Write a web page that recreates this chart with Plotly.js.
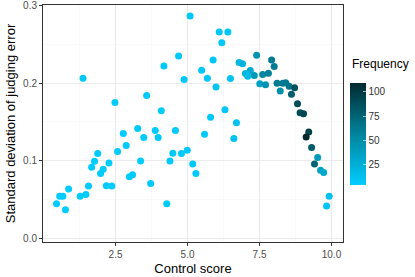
<!DOCTYPE html>
<html>
<head>
<meta charset="utf-8">
<script src="https://cdn.plot.ly/plotly-3.0.1.min.js"></script>
<style>html,body{margin:0;padding:0;background:#fff}#chart{width:415px;height:277px}</style>
</head>
<body>
<div id="chart"></div>
<script>
const controlScore = [1.37,2.48,3.58,2.77,3.27,5.09,6.10,6.40,6.19,4.69,4.18,5.89,5.49,4.88,5.69,6.49,6.79,6.91,7.18,7.01,7.09,5.99,4.09,6.30,5.80,6.70,3.88,4.58,3.48,2.87,2.57,1.88,1.77,2.27,1.67,3.37,2.07,1.98,2.98,3.09,1.56,2.18,2.37,3.72,0.87,0.56,0.67,1.27,1.47,0.45,0.76,3.98,5.59,6.61,4.49,4.79,4.99,4.39,5.18,5.29,4.28,7.40,7.92,8.01,7.32,7.61,7.81,7.51,7.71,8.11,8.31,8.41,8.53,8.72,8.22,8.61,8.82,8.91,9.03,9.21,9.12,9.31,9.52,9.41,9.62,9.73,9.92,9.83];
const sdError = [0.2065,0.175,0.184,0.135,0.1416,0.2866,0.266,0.266,0.252,0.235,0.222,0.230,0.2167,0.2048,0.2065,0.206,0.2265,0.225,0.2163,0.2125,0.209,0.195,0.1645,0.1658,0.156,0.149,0.139,0.139,0.130,0.1196,0.112,0.1094,0.0992,0.097,0.0916,0.0996,0.089,0.0835,0.0793,0.0818,0.0674,0.0678,0.0674,0.0707,0.0636,0.0542,0.0542,0.0542,0.0564,0.0445,0.0369,0.130,0.134,0.1285,0.1098,0.1094,0.1136,0.0996,0.0958,0.0835,0.0445,0.236,0.230,0.2214,0.210,0.2112,0.2128,0.1992,0.198,0.200,0.200,0.2005,0.196,0.194,0.190,0.1857,0.1734,0.162,0.1607,0.1369,0.1305,0.117,0.1043,0.0958,0.0878,0.0847,0.0542,0.0415];
const frequency = [8,6,6,6,6,8,8,8,8,6,6,8,7,7,7,10,18,22,28,20,16,9,5,8,7,12,5,6,5,5,5,5,5,5,5,5,5,5,5,5,5,5,5,5,4,4,4,5,5,4,4,6,6,12,6,6,6,6,6,6,5,45,62,62,42,55,58,35,45,62,62,62,66,85,48,78,88,88,92,95,109,80,40,75,35,30,12,10];
const colorTicks = [25,50,75,100];
const xTicks = [2.5,5.0,7.5,10.0];
const xTickText = ["2.5","5.0","7.5","10.0"];
const yTicks = [0.0,0.1,0.2,0.3];
const yTickText = ["0.0","0.1","0.2","0.3"];

const trace = {
  type: 'scatter', mode: 'markers',
  x: controlScore, y: sdError,
  marker: {
    size: 7,
    color: frequency,
    colorscale: [[0,'#00CCFF'],[0.5,'#00849C'],[1,'#00292E']],
    showscale: true,
    colorbar: {
      x: 1.0233, xanchor: 'left', xpad: 0,
      y: (242 - 134) / 237, yanchor: 'middle', ypad: 0,
      lenmode: 'pixels', len: 102,
      thickness: 16,
      outlinewidth: 0,
      tickvals: colorTicks,
      ticktext: colorTicks.map(String),
      ticks: 'inside', ticklen: 3, tickcolor: 'rgba(255,255,255,0.6)',
      tickfont: {family: 'Liberation Sans, Arial, sans-serif', size: 10, color: '#333'}
    },
    line: {width: 0}
  },
  hoverinfo: 'none'
};

const font = 'Liberation Sans, Arial, sans-serif';
const layout = {
  width: 415, height: 277,
  margin: {l: 43, r: 72, t: 5, b: 35},
  paper_bgcolor: '#fff', plot_bgcolor: '#fff',
  showlegend: false,
  font: {family: font},
  xaxis: {
    range: [-0.02, 10.4],
    tickvals: xTicks, ticktext: xTickText,
    tickfont: {family: font, size: 10, color: '#4d4d4d'},
    ticks: 'outside', ticklen: 3, tickcolor: '#333',
    showline: true, mirror: true, linecolor: '#333', linewidth: 1,
    showgrid: true, gridcolor: '#ebebeb', gridwidth: 1,
    minor: {dtick: 1.25, tick0: 0, showgrid: true, gridcolor: '#f6f6f6', gridwidth: 0.6},
    zeroline: false,
    title: {text: 'Control score', font: {family: font, size: 13, color: '#000'}, standoff: 4}
  },
  yaxis: {
    range: [-0.0048, 0.3008],
    tickvals: yTicks, ticktext: yTickText,
    ticklabeloverflow: 'allow',
    tickfont: {family: font, size: 10, color: '#4d4d4d'},
    ticks: 'outside', ticklen: 3, tickcolor: '#333',
    showline: true, mirror: true, linecolor: '#333', linewidth: 1,
    showgrid: true, gridcolor: '#ebebeb', gridwidth: 1,
    minor: {dtick: 0.05, tick0: 0, showgrid: true, gridcolor: '#f6f6f6', gridwidth: 0.6},
    zeroline: false,
    title: {text: 'Standard deviation of judging error', font: {family: font, size: 13, color: '#000'}, standoff: 4}
  },
  annotations: [{
    text: 'Frequency', xref: 'paper', yref: 'paper',
    x: 1.0233, y: (242 - 64) / 237, xanchor: 'left', yanchor: 'middle',
    showarrow: false, font: {family: font, size: 12, color: '#000'}
  }]
};

Plotly.newPlot('chart', [trace], layout, {displayModeBar: false, staticPlot: true});
</script>
</body>
</html>
